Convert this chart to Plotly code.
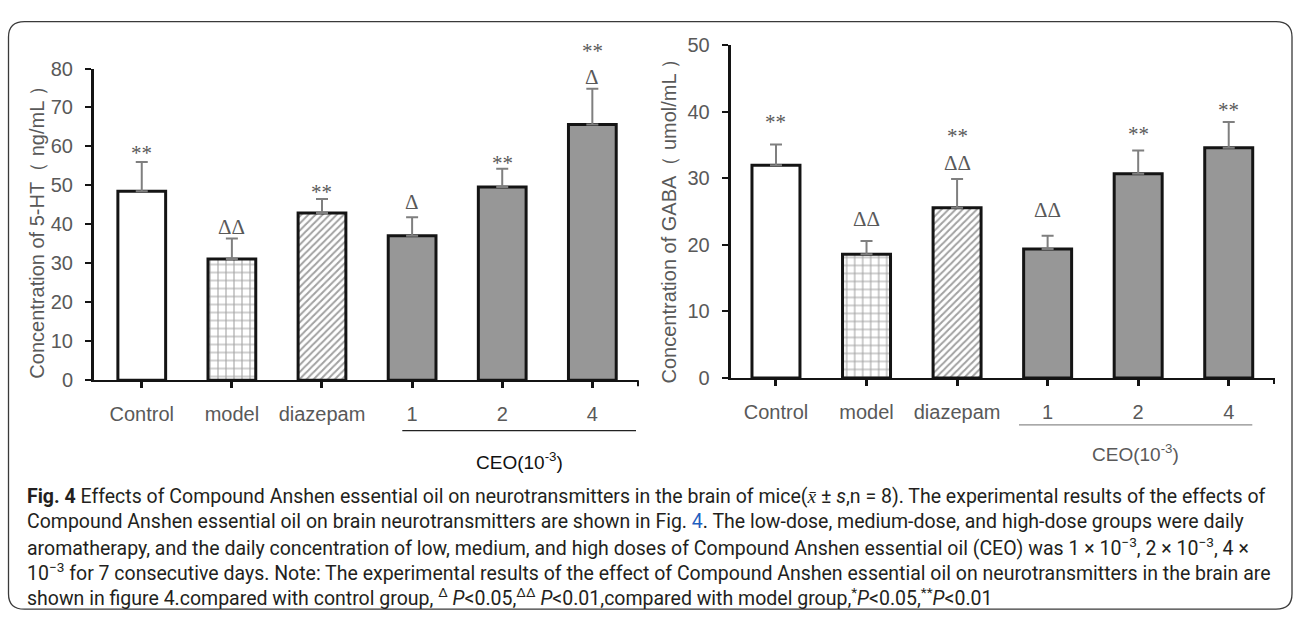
import plotly.graph_objects as go

# ---------------- data ----------------
categories = ["Control", "model", "diazepam", "1", "2", "4"]
ht_mean = [48.5, 31.1, 42.9, 37.1, 49.6, 65.6]
ht_err = [7.5, 5.3, 3.6, 4.7, 4.7, 9.2]
gaba_mean = [32.0, 18.6, 25.6, 19.4, 30.7, 34.6]
gaba_err = [3.1, 2.0, 4.3, 2.0, 3.5, 3.9]
ht_sig = ["**", "ΔΔ", "**", "Δ", "**", "Δ"]
ht_sig_top = ["", "", "", "", "", "**"]
gaba_sig = ["**", "ΔΔ", "ΔΔ", "ΔΔ", "**", "**"]
gaba_sig_top = ["", "", "**", "", "", ""]
ht_ticks = [0, 10, 20, 30, 40, 50, 60, 70, 80]
gaba_ticks = [0, 10, 20, 30, 40, 50]
ht_title = "Concentration of 5-HT（ ng/mL ）"
gaba_title = "Concentration of GABA（ umol/mL ）"
group_label = "CEO(10<sup>-3</sup>)"

# ---------------- style ----------------
W, H = 1295, 626
GRAY = "#595959"
def px(x):
    return x / W
def py(y):
    return 1 - y / H

fill_colors = ["white", "white", "white", "#979797", "#979797", "#979797"]
pat_shape = ["", "+", "/", "", "", ""]
pat_fg = ["#808080", "#999999", "#cdcdcd", "#808080", "#808080", "#808080"]
pat_size = [8, 8, 5, 8, 8, 8]
pat_sol = [0.2, 0.25, 0.4, 0.2, 0.2, 0.2]

# vertical offsets (px) of significance marks above error bar tops
ht_shift = [9, 11, 7, 15, 6, 12]
ht_shift_top = [0, 0, 0, 0, 0, 38]
gaba_shift = [23, 22, 16, 26, 17, 12]
gaba_shift_top = [0, 0, 43, 0, 0, 0]

fig = go.Figure()

def add_bars(means, errs, xa, ya):
    fig.add_trace(go.Bar(
        x=categories, y=means, xaxis=xa, yaxis=ya, width=0.53,
        marker=dict(
            color=fill_colors,
            line=dict(color="#141414", width=3),
            pattern=dict(shape=pat_shape, fgcolor=pat_fg, bgcolor="white",
                         size=pat_size, solidity=pat_sol),
        ),
        error_y=dict(type="data", array=errs, arrayminus=[0] * len(errs),
                     symmetric=False, color="#7f7f7f", thickness=2, width=6),
        showlegend=False, hoverinfo="skip",
    ))

add_bars(ht_mean, ht_err, "x", "y")
add_bars(gaba_mean, gaba_err, "x2", "y2")

annotations = []

def add_sig(means, errs, sig, shifts, xref, yref):
    for i, (m, e, s, sh) in enumerate(zip(means, errs, sig, shifts)):
        if not s:
            continue
        annotations.append(dict(
            x=i, y=m + e, xref=xref, yref=yref, text=s, showarrow=False,
            xanchor="center", yanchor="middle", yshift=sh,
            font=dict(family="Liberation Serif", size=21, color=GRAY),
        ))

add_sig(ht_mean, ht_err, ht_sig, ht_shift, "x", "y")
add_sig(ht_mean, ht_err, ht_sig_top, ht_shift_top, "x", "y")
add_sig(gaba_mean, gaba_err, gaba_sig, gaba_shift, "x2", "y2")
add_sig(gaba_mean, gaba_err, gaba_sig_top, gaba_shift_top, "x2", "y2")

def paper_text(x, y, text, size, color, angle=0, family="Liberation Sans"):
    annotations.append(dict(x=px(x), y=py(y), xref="paper", yref="paper",
                            text=text, textangle=angle, showarrow=False,
                            xanchor="center", yanchor="middle",
                            font=dict(family=family, size=size, color=color)))

# axis titles
paper_text(37.5, 224, ht_title, 20, GRAY, angle=-90)
paper_text(669, 213, gaba_title, 20, GRAY, angle=-90)

# group labels
paper_text(519.5, 466, group_label, 19, "#111111")
paper_text(1135.7, 458, group_label, 19, GRAY)

# caption
caption_lines = [
    "<b>Fig. 4</b> Effects of Compound Anshen essential oil on neurotransmitters in the brain of mice(<i>x̄</i> ± <i>s</i>,n = 8). The experimental results of the effects of",
    "Compound Anshen essential oil on brain neurotransmitters are shown in Fig. <span style='color:#1f5fbf'>4</span>. The low-dose, medium-dose, and high-dose groups were daily",
    "aromatherapy, and the daily concentration of low, medium, and high doses of Compound Anshen essential oil (CEO) was 1 × 10<sup>−3</sup>, 2 × 10<sup>−3</sup>, 4 ×",
    "10<sup>−3</sup> for 7 consecutive days. Note: The experimental results of the effect of Compound Anshen essential oil on neurotransmitters in the brain are",
    "shown in figure 4.compared with control group, <sup>Δ</sup> <i>P</i><0.05,<sup>ΔΔ</sup> <i>P</i><0.01,compared with model group,<sup>*</sup><i>P</i><0.05,<sup>**</sup><i>P</i><0.01",
]
for i, line in enumerate(caption_lines):
    annotations.append(dict(x=px(25), y=py(503 + 26.2 * i), xref="paper", yref="paper",
                            text=line, showarrow=False, xanchor="left", yanchor="middle",
                            font=dict(family="Roboto", size=19.5, color="#231f20")))

# shapes: frame, CEO underlines, axis end ticks
r = 16
x0, y0, x1, y1 = 8.5, 11, 1292, 620
frame_path = (
    f"M {px(x0 + r)},{py(y0)} L {px(x1 - r)},{py(y0)} "
    f"Q {px(x1)},{py(y0)} {px(x1)},{py(y0 + r)} L {px(x1)},{py(y1 - r)} "
    f"Q {px(x1)},{py(y1)} {px(x1 - r)},{py(y1)} L {px(x0 + r)},{py(y1)} "
    f"Q {px(x0)},{py(y1)} {px(x0)},{py(y1 - r)} L {px(x0)},{py(y0 + r)} "
    f"Q {px(x0)},{py(y0)} {px(x0 + r)},{py(y0)} Z"
)
shapes = [
    dict(type="path", path=frame_path, xref="paper", yref="paper",
         line=dict(color="#3a3a3a", width=1.3)),
    dict(type="line", xref="paper", yref="paper", x0=px(402.3), x1=px(636),
         y0=py(435), y1=py(435), line=dict(color="#222222", width=1.3)),
    dict(type="line", xref="paper", yref="paper", x0=px(1019), x1=px(1252.3),
         y0=py(429), y1=py(429), line=dict(color="#8c8c8c", width=1.3)),
    dict(type="line", xref="paper", yref="paper", x0=px(638), x1=px(638),
         y0=py(382.7), y1=py(389), line=dict(color="#141414", width=2)),
    dict(type="line", xref="paper", yref="paper", x0=px(1274), x1=px(1274),
         y0=py(380.3), y1=py(386.5), line=dict(color="#141414", width=2)),
]

xcommon = dict(type="category", showgrid=False, zeroline=False, showline=True,
               linecolor="#141414", linewidth=2, ticks="outside", ticklen=6,
               tickwidth=2.5, tickcolor="#141414", ticklabelstandoff=9,
               tickfont=dict(family="Liberation Sans", size=20, color=GRAY),
               fixedrange=True)
ycommon = dict(showgrid=False, zeroline=False, showline=True, linecolor="#141414",
               linewidth=3, ticks="outside", ticklen=6, tickwidth=2,
               tickcolor="#141414", ticklabelstandoff=8,
               tickfont=dict(family="Liberation Sans", size=20, color=GRAY),
               fixedrange=True)

fig.update_layout(
    width=W, height=H, autosize=False,
    margin=dict(l=0, r=0, t=0, b=0),
    paper_bgcolor="white", plot_bgcolor="rgba(0,0,0,0)",
    xaxis=dict(xcommon, domain=[px(94), px(638.3)], range=[-0.53, 5.51], anchor="y"),
    yaxis=dict(ycommon, domain=[py(382.7), py(59.6)], range=[0, 80],
               tickvals=ht_ticks, anchor="x"),
    xaxis2=dict(xcommon, domain=[px(730.7), px(1274)], range=[-0.5, 5.5], anchor="y2"),
    yaxis2=dict(ycommon, domain=[py(380.3), py(35.7)], range=[0, 50],
                tickvals=gaba_ticks, anchor="x2"),
    annotations=annotations,
    shapes=shapes,
)

fig.write_html("out.html", config={"displayModeBar": False},
               post_script="document.body.style.margin='0';document.body.style.overflow='hidden';")
